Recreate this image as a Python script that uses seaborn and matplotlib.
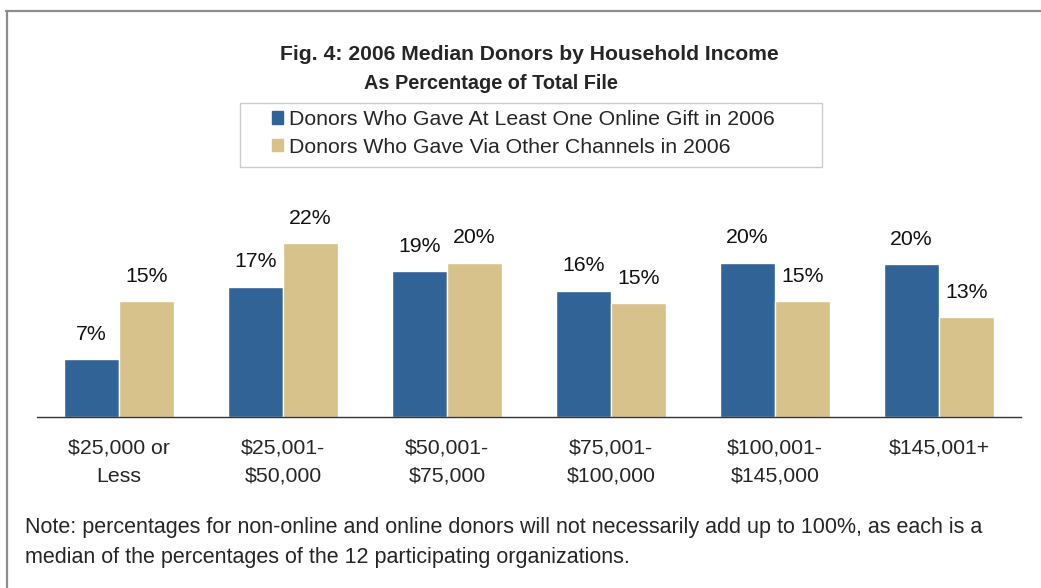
import pandas as pd
import matplotlib
matplotlib.use("Agg")
import matplotlib.pyplot as plt
import matplotlib.patches as mpatches
from matplotlib.lines import Line2D
import seaborn as sns

# Datos
categories = ["$25,000 or\nLess", "$25,001-\n$50,000", "$50,001-\n$75,000",
              "$75,001-\n$100,000", "$100,001-\n$145,000", "$145,001+"]
online = [7.4, 16.7, 18.7, 16.2, 19.8, 19.6]
other = [14.9, 22.3, 19.8, 14.6, 14.9, 12.8]
series = ["Donors Who Gave At Least One Online Gift in 2006",
          "Donors Who Gave Via Other Channels in 2006"]

df = pd.DataFrame({
    "category": categories * 2,
    "value": online + other,
    "series": [series[0]] * len(categories) + [series[1]] * len(categories),
})

sns.set_style("white")
plt.rcParams["font.family"] = ["Liberation Sans", "DejaVu Sans"]

W, H = 1041, 588
fig = plt.figure(figsize=(W / 100, H / 100), dpi=100)

def fx(px):
    return px / W

def fy(py):
    return 1 - py / H

FS = 15.3

# Área del gráfico
ax_left, ax_right, ax_bottom = 37, 1021, 416.7
ymax = 30
scale = 7.78
ax = fig.add_axes([fx(ax_left), fy(ax_bottom), fx(ax_right - ax_left), scale * ymax / H])

colors = ["#316396", "#D6C28A"]
sns.barplot(data=df, x="category", y="value", hue="series", palette=colors,
            width=0.67, gap=0, saturation=1, ax=ax, legend=False)

ax.set_xlim(-0.5, len(categories) - 0.5)
ax.set_ylim(0, ymax)
ax.set_xlabel("")
ax.set_ylabel("")
ax.set_yticks([])
ax.tick_params(axis="x", length=0, labelsize=FS, pad=16)
for lbl in ax.get_xticklabels():
    lbl.set_linespacing(1.58)
for s in ["top", "left", "right"]:
    ax.spines[s].set_visible(False)
ax.spines["bottom"].set_color("#333333")
ax.spines["bottom"].set_linewidth(1)

# Etiquetas de porcentaje
for cont in ax.containers:
    ax.bar_label(cont, labels=[f"{b.get_height():.0f}%" for b in cont],
                 padding=11, fontsize=FS, color="#111111")

# Títulos
fig.text(fx(529), fy(55), "Fig. 4: 2006 Median Donors by Household Income",
         ha="center", va="center", fontsize=15.2, fontweight="bold")
fig.text(fx(491), fy(84), "As Percentage of Total File",
         ha="center", va="center", fontsize=14.3, fontweight="bold")

# Leyenda
fig.patches.append(mpatches.Rectangle((fx(240), fy(167)), fx(822 - 240), (167 - 103) / H,
                                      transform=fig.transFigure, fill=False,
                                      edgecolor="#cccccc", linewidth=1))
handles = [mpatches.Patch(color=c, label=l) for c, l in zip(colors, series)]
fig.legend(handles=handles, loc="upper left", bbox_to_anchor=(fx(272), fy(110)),
           frameon=False, fontsize=FS, handlelength=0.5, handleheight=0.5,
           handletextpad=0.3, labelspacing=0.42, borderpad=0, borderaxespad=0)

# Nota
fig.text(fx(25), fy(528),
         "Note: percentages for non-online and online donors will not necessarily add up to 100%, as each is a",
         ha="left", va="center", fontsize=15.5)
fig.text(fx(25), fy(557),
         "median of the percentages of the 12 participating organizations.",
         ha="left", va="center", fontsize=15.5)

# Marco exterior
fig.add_artist(Line2D([fx(6), 1], [fy(10.5), fy(10.5)], transform=fig.transFigure,
                      color="#8c8c8c", linewidth=1.6))
fig.add_artist(Line2D([fx(7), fx(7)], [fy(10.5), 0], transform=fig.transFigure,
                      color="#8c8c8c", linewidth=1.6))

fig.savefig("out.png", dpi=100)
